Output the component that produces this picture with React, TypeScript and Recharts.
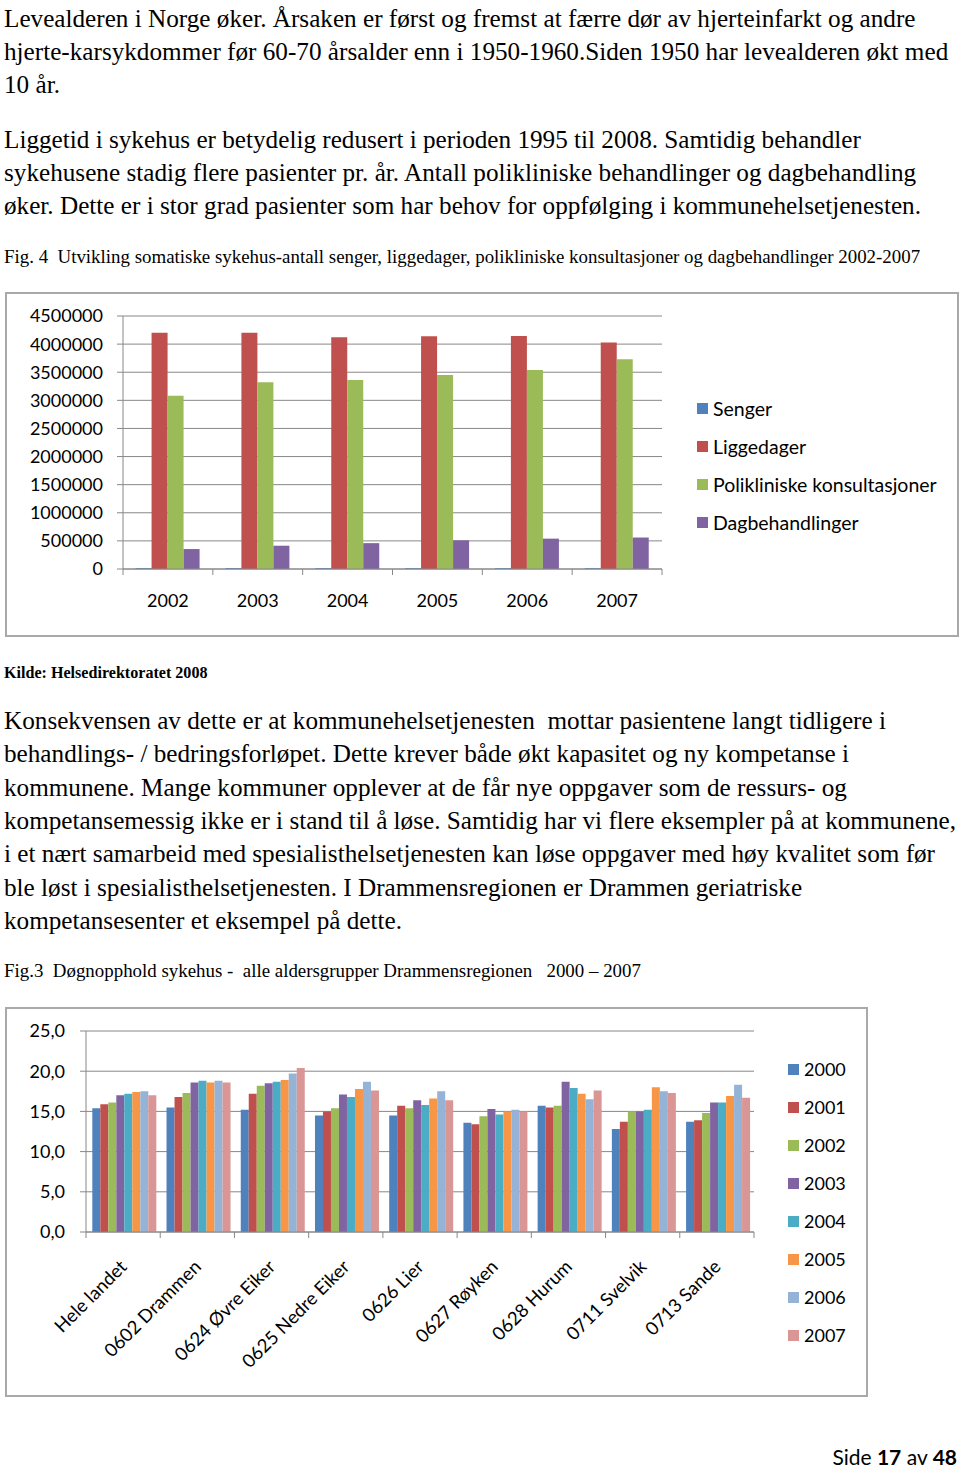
import React from "react";
import { BarChart, Bar, XAxis, YAxis, CartesianGrid, Legend } from "recharts";

// Fig. 4 data
const fig4Years = ["2002", "2003", "2004", "2005", "2006", "2007"];
const senger = [15000, 14700, 14300, 13900, 13600, 13200];
const liggedager = [4200000, 4200000, 4120000, 4140000, 4145000, 4030000];
const polikliniske = [3080000, 3320000, 3360000, 3450000, 3540000, 3730000];
const dagbehandlinger = [355000, 414000, 460000, 510000, 540000, 560000];
const fig4Ticks = [0, 500000, 1000000, 1500000, 2000000, 2500000, 3000000, 3500000, 4000000, 4500000];

// Fig. 3 data
const kommuner = [
	"Hele landet",
	"0602 Drammen",
	"0624 Øvre Eiker",
	"0625 Nedre Eiker",
	"0626 Lier",
	"0627 Røyken",
	"0628 Hurum",
	"0711 Svelvik",
	"0713 Sande",
];
const y2000 = [15.4, 15.5, 15.2, 14.5, 14.5, 13.6, 15.7, 12.8, 13.7];
const y2001 = [15.9, 16.8, 17.2, 15.0, 15.7, 13.4, 15.5, 13.7, 13.9];
const y2002 = [16.1, 17.3, 18.2, 15.4, 15.4, 14.4, 15.7, 15.0, 14.8];
const y2003 = [17.0, 18.6, 18.5, 17.1, 16.4, 15.3, 18.7, 15.0, 16.1];
const y2004 = [17.2, 18.8, 18.7, 16.8, 15.8, 14.6, 17.9, 15.2, 16.1];
const y2005 = [17.4, 18.6, 18.9, 17.8, 16.6, 15.0, 17.2, 18.0, 16.9];
const y2006 = [17.5, 18.8, 19.7, 18.7, 17.5, 15.2, 16.5, 17.5, 18.3];
const y2007 = [17.0, 18.6, 20.4, 17.6, 16.4, 15.0, 17.6, 17.3, 16.7];
const fig3Ticks = [0, 5, 10, 15, 20, 25];

const fig4Data = fig4Years.map((year, i) => ({
	year,
	Senger: senger[i],
	Liggedager: liggedager[i],
	"Polikliniske konsultasjoner": polikliniske[i],
	Dagbehandlinger: dagbehandlinger[i],
}));

const fig3Data = kommuner.map((name, i) => ({
	name,
	"2000": y2000[i],
	"2001": y2001[i],
	"2002": y2002[i],
	"2003": y2003[i],
	"2004": y2004[i],
	"2005": y2005[i],
	"2006": y2006[i],
	"2007": y2007[i],
}));

const fig4Series = [
	{ key: "Senger", color: "#4F81BD" },
	{ key: "Liggedager", color: "#C0504D" },
	{ key: "Polikliniske konsultasjoner", color: "#9BBB59" },
	{ key: "Dagbehandlinger", color: "#8064A2" },
];

const fig3Series = [
	{ key: "2000", color: "#4F81BD" },
	{ key: "2001", color: "#C0504D" },
	{ key: "2002", color: "#9BBB59" },
	{ key: "2003", color: "#8064A2" },
	{ key: "2004", color: "#4BACC6" },
	{ key: "2005", color: "#F79646" },
	{ key: "2006", color: "#95B3D7" },
	{ key: "2007", color: "#D99694" },
];

const axisColor = "#888888";
const chartFont = "Lato, 'Open Sans', sans-serif";
const serif = "'Liberation Serif', 'Times New Roman', serif";

// ticks between categories, like Excel does
const YearTick = (props: any) => {
	const { x, y, payload, index, visibleTicksCount, width } = props;
	const half = payload?.offset || width / visibleTicksCount / 2;
	return (
		<g>
			<line x1={x - half} x2={x - half} y1={y - 6} y2={y} stroke={axisColor} />
			{index === visibleTicksCount - 1 && (
				<line x1={x + half} x2={x + half} y1={y - 6} y2={y} stroke={axisColor} />
			)}
			<text
				x={x}
				y={y + 27}
				textAnchor="middle"
				dominantBaseline="middle"
				fontSize={18}
				fontFamily={chartFont}
				fill="#000"
			>
				{payload.value}
			</text>
		</g>
	);
};

const RotatedTick = (props: any) => {
	const { x, y, payload, index, visibleTicksCount, width } = props;
	const half = payload?.offset || width / visibleTicksCount / 2;
	const ty = y + 25;
	return (
		<g>
			<line x1={x - half} x2={x - half} y1={y - 6} y2={y} stroke={axisColor} />
			{index === visibleTicksCount - 1 && (
				<line x1={x + half} x2={x + half} y1={y - 6} y2={y} stroke={axisColor} />
			)}
			<text
				x={x}
				y={ty}
				transform={`rotate(-45, ${x}, ${ty})`}
				textAnchor="end"
				dominantBaseline="central"
				fontSize={18.5}
				fontFamily={chartFont}
				fill="#000"
			>
				{payload.value}
			</text>
		</g>
	);
};

// legend keeps the series order instead of sorting by name
const makeLegend = (series: { key: string }[], fontSize: number) => (props: any) => {
	const order = series.map((s) => s.key);
	const items = [...(props.payload || [])].sort(
		(a: any, b: any) => order.indexOf(a.dataKey) - order.indexOf(b.dataKey)
	);
	return (
		<div style={{ fontFamily: chartFont, fontSize, color: "#000" }}>
			{items.map((item: any) => (
				<div
					key={item.value}
					style={{ height: 38, display: "flex", alignItems: "center", whiteSpace: "nowrap" }}
				>
					<span
						style={{
							display: "inline-block",
							width: 11,
							height: 11,
							background: item.color,
							marginRight: 5,
						}}
					/>
					<span>{item.value}</span>
				</div>
			))}
		</div>
	);
};

const Line = ({ top, children, size = 25.2, bold = false }: any) => (
	<div
		style={{
			position: "absolute",
			left: 4,
			top: top - 16,
			height: 32,
			lineHeight: "32px",
			fontFamily: serif,
			fontSize: size,
			fontWeight: bold ? "bold" : "normal",
			whiteSpace: "pre",
			color: "#000",
		}}
	>
		{children}
	</div>
);

const frame = (left: number, top: number, width: number, height: number) => ({
	position: "absolute" as const,
	left,
	top,
	width,
	height,
	boxSizing: "border-box" as const,
	border: "2px solid #a9a9a9",
	pointerEvents: "none" as const,
});

export default function App() {
	return (
		<div
			style={{
				position: "absolute",
				left: 0,
				top: 0,
				width: 960,
				height: 1468,
				background: "#fff",
				overflow: "hidden",
			}}
		>
			<Line top={19}>Levealderen i Norge øker. Årsaken er først og fremst at færre dør av hjerteinfarkt og andre</Line>
			<Line top={52}>hjerte-karsykdommer før 60-70 årsalder enn i 1950-1960.Siden 1950 har levealderen økt med</Line>
			<Line top={85}>10 år.</Line>
			<Line top={140}>Liggetid i sykehus er betydelig redusert i perioden 1995 til 2008. Samtidig behandler</Line>
			<Line top={173}>sykehusene stadig flere pasienter pr. år. Antall polikliniske behandlinger og dagbehandling</Line>
			<Line top={206}>øker. Dette er i stor grad pasienter som har behov for oppfølging i kommunehelsetjenesten.</Line>
			<Line top={257} size={18.9}>Fig. 4  Utvikling somatiske sykehus-antall senger, liggedager, polikliniske konsultasjoner og dagbehandlinger 2002-2007</Line>

			<div style={{ position: "absolute", left: 5, top: 292 }}>
				<BarChart
					width={954}
					height={345}
					data={fig4Data}
					margin={{ top: 24, right: 297, left: 0, bottom: 0 }}
					barCategoryGap="14%"
					barGap={0}
				>
					<CartesianGrid vertical={false} stroke={axisColor} strokeWidth={1} />
					<XAxis
						dataKey="year"
						height={68}
						stroke={axisColor}
						tickLine={false}
						tickSize={6}
						tickMargin={0}
						tick={<YearTick />}
						interval={0}
					/>
					<YAxis
						width={118}
						domain={[0, 4500000]}
						ticks={fig4Ticks}
						stroke={axisColor}
						tickSize={6}
						tickMargin={14}
						tick={{ fill: "#000", fontSize: 18, fontFamily: chartFont }}
					/>
					<Legend
						layout="vertical"
						align="center"
						verticalAlign="middle"
						content={makeLegend(fig4Series, 19.5)}
						wrapperStyle={{ position: "absolute", left: 692, top: 97, width: 260 }}
					/>
					{fig4Series.map((s) => (
						<Bar key={s.key} dataKey={s.key} fill={s.color} isAnimationActive={false} />
					))}
				</BarChart>
			</div>
			<div style={frame(5, 292, 954, 345)} />

			<Line top={673} size={16.1} bold>Kilde: Helsedirektoratet 2008</Line>

			<Line top={721}>Konsekvensen av dette er at kommunehelsetjenesten  mottar pasientene langt tidligere i</Line>
			<Line top={754}>behandlings- / bedringsforløpet. Dette krever både økt kapasitet og ny kompetanse i</Line>
			<Line top={788}>kommunene. Mange kommuner opplever at de får nye oppgaver som de ressurs- og</Line>
			<Line top={821}>kompetansemessig ikke er i stand til å løse. Samtidig har vi flere eksempler på at kommunene,</Line>
			<Line top={854}>i et nært samarbeid med spesialisthelsetjenesten kan løse oppgaver med høy kvalitet som før</Line>
			<Line top={888}>ble løst i spesialisthelsetjenesten. I Drammensregionen er Drammen geriatriske</Line>
			<Line top={921}>kompetansesenter et eksempel på dette.</Line>
			<Line top={971} size={18.9}>Fig.3  Døgnopphold sykehus -  alle aldersgrupper Drammensregionen   2000 – 2007</Line>

			<div style={{ position: "absolute", left: 5, top: 1007 }}>
				<BarChart
					width={863}
					height={390}
					data={fig3Data}
					margin={{ top: 24, right: 114, left: 0, bottom: 0 }}
					barCategoryGap="8.5%"
					barGap={0}
				>
					<CartesianGrid vertical={false} stroke={axisColor} strokeWidth={1} />
					<XAxis
						dataKey="name"
						height={165}
						stroke={axisColor}
						tickLine={false}
						tickSize={6}
						tickMargin={0}
						tick={<RotatedTick />}
						interval={0}
					/>
					<YAxis
						width={81}
						domain={[0, 25]}
						ticks={fig3Ticks}
						stroke={axisColor}
						tickSize={6}
						tickMargin={15}
						tickFormatter={(v: number) => v.toFixed(1).replace(".", ",")}
						tick={{ fill: "#000", fontSize: 18, fontFamily: chartFont }}
					/>
					<Legend
						layout="vertical"
						align="center"
						verticalAlign="middle"
						content={makeLegend(fig3Series, 18)}
						wrapperStyle={{ position: "absolute", left: 783, top: 43, width: 80 }}
					/>
					{fig3Series.map((s) => (
						<Bar key={s.key} dataKey={s.key} fill={s.color} isAnimationActive={false} />
					))}
				</BarChart>
			</div>
			<div style={frame(5, 1007, 863, 390)} />

			<div
				style={{
					position: "absolute",
					right: 3,
					top: 1444,
					fontFamily: chartFont,
					fontSize: 21,
					lineHeight: "26px",
					color: "#000",
					whiteSpace: "nowrap",
				}}
			>
				Side <b>17</b> av <b>48</b>
			</div>
		</div>
	);
}
